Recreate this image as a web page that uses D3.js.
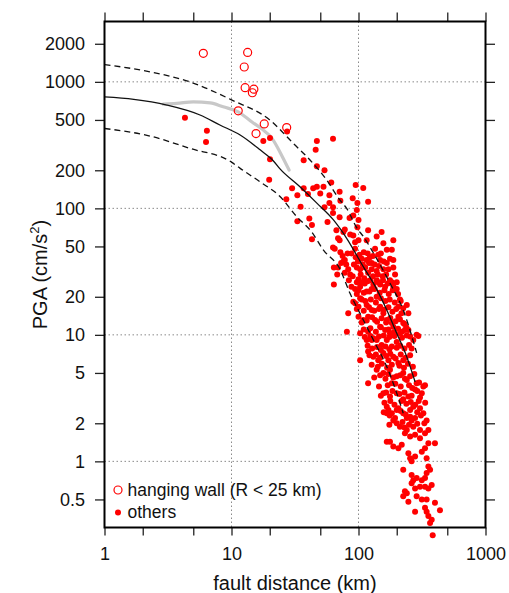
<!DOCTYPE html>
<html><head><meta charset="utf-8">
<script src="https://cdn.jsdelivr.net/npm/d3@7"></script>
<style>body{margin:0;background:#fff}svg{display:block}text{font-family:"Liberation Sans",Arial,Helvetica,sans-serif;fill:#111}</style>
</head><body>
<svg id="chart" width="509" height="593"></svg>
<script>
const xTickValues=[1,2,5,10,20,50,100,200,500,1000];
const xLabelValues=[1,10,100,1000];
const yTickValues=[0.5,1,2,5,10,20,50,100,200,500,1000,2000];
const xGrid=[10,100];
const yGrid=[1,10,100,1000];
const xTitle="fault distance (km)";
const legendLabels=["hanging wall (R < 25 km)","others"];

const hangingWall=[[6.0,1680],[13.4,1710],[12.6,1310],[12.8,900],[15.0,875],[14.6,820],[11.3,590],[18.1,465],[15.6,390],[27.2,435]];

const othersNear=[[4.3,520],[6.4,410],[6.3,335],[20.1,360],[17.8,340],[20.1,245],[27.4,405],[19.8,168]];

const othersSparse=[[47,340],[63,355],[46,290],[37,240],[47,215],[54,200],[61,160],[30,144],[37,144],[44,144],[47,148],[53,148],[40,130],[50,131],[33,127],[95,153],[109,145],[27,118],[71,135],[72,115],[90,120],[59,110],[98,110],[119,113],[35,103],[54,102],[63,102],[63,92],[41,83],[33,79],[57,78],[71,85],[85,84],[100,81],[43,74],[67,67],[78,68],[98,71],[119,67],[43,57],[69,58],[86,62],[94,54],[63,49],[59,127],[91,88],[97,97],[76,65],[71,56],[91,61],[100,56],[94,48],[116,56],[152,65],[157,53],[188,56],[188,39],[139,60],[135,48],[143,43],[65,48],[72,45],[78,39],[64,34],[69,34],[68,30],[64,25],[76,38],[83,33],[86,30],[97,34],[103,33],[106,40],[116,39],[123,41],[127,37],[167,47],[183,47],[177,40],[148,39],[167,37],[127,33],[139,32],[157,33],[172,33],[188,34],[194,30],[200,26],[97,26],[103,24],[112,25.5],[116,22],[127,23],[139,27],[148,25],[162,24],[177,27],[188,24],[200,23],[212,19],[206,16.7],[225,16.2],[240,17.2],[247,14.8],[97,21],[94,17.8],[100,16.7],[106,19],[116,17.2],[127,15.7],[83,14.8],[100,13.9],[109,13.1],[119,13.9],[139,20],[148,16.7],[157,14.8],[167,13.1],[183,12.4],[135,13.1],[148,11.6],[162,10.9],[177,10.3],[188,11.6],[81,10.6],[103,10.3],[119,10.6],[116,9.1],[127,9.1],[139,9.1],[152,8.3],[167,9.1],[183,8.1],[200,8.8],[212,10.3],[232,10.9],[255,9.7],[287,10],[262,7.8],[270,9.1],[103,6.3],[119,7.4],[131,6.7],[143,6.3],[157,7.2],[172,6.3],[188,6.7],[206,6.0],[225,6.3],[139,5.3],[119,4.15],[157,5.0],[177,5.3],[200,4.7],[225,5.0],[240,4.4],[183,4.15],[287,4.15],[324,3.9],[315,3.46],[279,3.7],[157,3.46],[177,3.25],[200,3.46],[225,3.1],[247,3.25],[167,2.7],[183,2.4],[206,2.63],[225,2.4],[255,2.55],[270,2.7],[305,2.63],[324,2.4],[194,2.2],[240,2.2],[279,2.2],[94,23],[91,18.3],[131,9.4],[206,13.9],[225,12.4],[247,10.9],[296,9.8],[334,4.0],[344,2.1],[355,1.77],[167,2.4],[172,2.55],[200,2.55],[212,1.88],[240,1.77],[270,1.88],[305,1.77],[188,2.1]];

const othersLow=[[177,1.43],[167,1.43],[188,1.31],[206,1.27],[219,1.35],[232,1.67],[255,1.57],[279,1.62],[305,1.52],[334,1.67],[400,1.39],[355,1.39],[334,1.27],[315,1.19],[255,1.06],[262,1.0],[247,1.16],[279,1.09],[344,1.06],[225,0.86],[355,0.91],[366,0.86],[344,0.81],[334,0.74],[262,0.78],[270,0.71],[287,0.74],[315,0.71],[262,0.67],[279,0.61],[305,0.63],[334,0.63],[355,0.61],[377,0.65],[232,0.58],[225,0.53],[247,0.48],[287,0.53],[315,0.50],[344,0.50],[400,0.47],[438,0.41],[334,0.43],[344,0.40],[279,0.40],[355,0.37],[377,0.345],[366,0.325],[384,0.26],[240,0.56]];

const othersCore=[[75,42],[80,36],[78,31],[84,27],[88,24],[82,44],[73,37],
[88,44],[95,41],[102,43],[110,45],[118,44],[130,42],[150,44],[92,36],[99,38],[108,36],[113,34],[121,37],[134,36],[145,35],[158,38],[90,29],[104,30],[111,28],[119,31],[130,29],[142,30],[155,29],[165,30],[100,27.5],[124,27],
[105,26],[118,26.5],[131,25],[143,26],[156,27],[170,25.5],[183,26],[100,22.5],[110,21.5],[122,22],[134,23],[147,21.5],[160,22.5],[173,21],[186,22.5],[205,21],[103,19.5],[113,18.5],[125,19],[137,18],[150,19.5],[163,18.5],[176,19],[193,18],[215,18.5],[97,16],[110,15.5],[121,16.5],[133,15.5],[145,16],[158,15.8],[172,16.5],[185,15.2],[198,16],[218,14.8],[106,12.5],[116,13],[128,13.8],[140,12.7],[152,13.5],[165,12.5],[178,13.6],[196,12.8],[212,13.3],[230,12.2],[110,11],[124,11.3],[137,10.6],[150,11.5],[172,11],[190,10.5],[205,11.2],[220,10.6],[238,11.5],
[112,9.6],[124,9.8],[145,9.7],[158,9.9],[175,9.6],[192,9.8],[220,9.5],[240,9.9],[118,8.2],[128,7.8],[140,8.0],[150,7.6],[163,8.1],[175,7.7],[200,7.9],[213,8.2],[230,7.8],[250,8.3],[122,6.9],[137,7.0],[148,6.6],[165,6.8],[178,7.1],[196,6.5],[215,7.0],[235,6.6],[255,6.9],[127,5.8],[142,5.6],[153,5.9],[168,5.5],[183,5.8],[210,5.7],[228,5.5],[245,5.9],[268,5.6],[133,4.6],[148,4.8],[163,4.5],[172,4.9],[188,4.6],[213,4.8],[232,4.5],[255,4.7],[275,4.9],
[145,3.9],[170,4.0],[195,4.1],[215,3.9],[250,4.0],[265,3.8],[300,4.2],[150,3.3],[165,3.5],[185,3.6],[210,3.4],[230,3.5],[262,3.3],[290,3.6],[305,3.2],[160,2.9],[178,3.0],[192,2.8],[218,3.0],[238,2.85],[258,2.95],[280,2.8],[298,3.0],[335,2.9],[158,2.45],[176,2.3],[215,2.5],[235,2.35],[255,2.25],[290,2.45],[310,2.3],[175,1.95],[200,2.0],[222,2.05],[250,1.95],[262,2.1],[290,1.98],[330,2.0],[230,1.85]];

const medianCurve=[[1,760],[1.7,727],[3.1,655],[5.65,547],[8.1,456],[11.7,380],[16.8,290],[21.3,238],[24.1,205],[34.6,148],[47,110],[63.5,81],[80.7,58],[109,34.6],[139,23],[167,15.7],[200,10.3],[240,6.7],[279,4.25]];
const upperCurve=[[1,1370],[2.28,1200],[4.7,1000],[10,720],[20.1,498],[30.7,326],[41.5,241],[56,168],[71.5,116],[80.7,100],[97,70],[109,60],[139,40],[177,25.6],[225,15.7],[287,7.2]];
const lowerCurve=[[1,428],[2.28,373],[4.7,298],[10,232],[11.7,207],[16.8,162],[24.1,124],[32.6,86],[42.8,65],[52.8,47],[71.5,33],[85.7,21.3],[106,13.9],[131,9.1],[167,5.6],[200,3.46],[225,2.4]];
const grayCurve=[[2.9,667],[3.7,675],[5.0,695],[6.8,682],[8.6,635],[11.3,580],[14.5,481],[17.4,423],[20.8,359],[23.2,299],[25.5,249],[28.4,201]];

const svg=d3.select("#chart");
const L=104.5,R=485.5,T=21.5,B=527.5;
const x=d3.scaleLog().domain([1,1000]).range([L,R]);
const y=d3.scaleLog().domain([0.3,3000]).range([B,T]);

// grid
const grid=svg.append("g").attr("stroke","#8a8a8a").attr("stroke-width",1).attr("stroke-dasharray","1.5,2.5");
grid.selectAll("line.gx").data(xGrid).join("line").attr("x1",d=>x(d)).attr("x2",d=>x(d)).attr("y1",T).attr("y2",B);
grid.selectAll("line.gy").data(yGrid).join("line").attr("y1",d=>y(d)).attr("y2",d=>y(d)).attr("x1",L).attr("x2",R);

// axes
const fmt=d=>String(d);
function styleAxis(g){g.select(".domain").remove();g.selectAll(".tick line").attr("stroke","#222").attr("stroke-width",1.3);g.selectAll("text").attr("font-size",18).attr("fill","#111").attr("font-family","'Liberation Sans',Arial,sans-serif");}
svg.append("g").attr("transform",`translate(${L},0)`).call(d3.axisLeft(y).tickValues(yTickValues).tickFormat(fmt).tickSize(9.5).tickPadding(10)).call(styleAxis);
svg.append("g").attr("transform",`translate(${R},0)`).call(d3.axisRight(y).tickValues(yTickValues).tickFormat("").tickSize(9.5)).call(styleAxis);
svg.append("g").attr("transform",`translate(0,${T})`).call(d3.axisTop(x).tickValues(xTickValues).tickFormat("").tickSize(9)).call(styleAxis);
svg.append("g").attr("transform",`translate(0,${B})`).call(d3.axisBottom(x).tickValues(xTickValues).tickFormat(d=>xLabelValues.includes(d)?String(d):"").tickSize(8).tickPadding(12)).call(styleAxis);

// gray line
const line=d3.line().x(d=>x(d[0])).y(d=>y(d[1])).curve(d3.curveMonotoneX);
svg.append("path").attr("d",line(grayCurve)).attr("fill","none").attr("stroke","#c8c8c8").attr("stroke-width",3.2).attr("stroke-linecap","round");

// dots
const allOthers=othersNear.concat(othersSparse,othersLow,othersCore);
svg.append("g").selectAll("circle").data(allOthers).join("circle")
  .attr("cx",d=>x(d[0])).attr("cy",d=>y(d[1])).attr("r",3).attr("fill","#ff0000");
svg.append("g").selectAll("circle").data(hangingWall).join("circle")
  .attr("cx",d=>x(d[0])).attr("cy",d=>y(d[1])).attr("r",4).attr("fill","none").attr("stroke","#ff0000").attr("stroke-width",1.2);

// curves
svg.append("path").attr("d",line(medianCurve)).attr("fill","none").attr("stroke","#111").attr("stroke-width",1.3);
svg.append("path").attr("d",line(upperCurve)).attr("fill","none").attr("stroke","#111").attr("stroke-width",1.3).attr("stroke-dasharray","6,4");
svg.append("path").attr("d",line(lowerCurve)).attr("fill","none").attr("stroke","#111").attr("stroke-width",1.3).attr("stroke-dasharray","6,4");

// frame
svg.append("rect").attr("x",L).attr("y",T).attr("width",R-L).attr("height",B-T).attr("fill","none").attr("stroke","#000").attr("stroke-width",2);

// titles
svg.append("text").attr("x",(L+R)/2).attr("y",590).attr("text-anchor","middle").attr("font-size",20).text(xTitle);
const yt=svg.append("text").attr("transform",`translate(47,${(T+B)/2}) rotate(-90)`).attr("text-anchor","middle").attr("font-size",20);
yt.append("tspan").text("PGA (cm/s");
yt.append("tspan").attr("font-size",13).attr("dy",-8).text("2");
yt.append("tspan").attr("dy",8).text(")");

// legend
const lg=svg.append("g");
lg.append("circle").attr("cx",118).attr("cy",490).attr("r",4).attr("fill","none").attr("stroke","#ff0000").attr("stroke-width",1.2);
lg.append("circle").attr("cx",118).attr("cy",512.5).attr("r",3).attr("fill","#ff0000");
lg.append("text").attr("x",127.5).attr("y",496).attr("font-size",17.5).text(legendLabels[0]);
lg.append("text").attr("x",127.5).attr("y",518).attr("font-size",17.5).text(legendLabels[1]);
</script>
</body></html>
